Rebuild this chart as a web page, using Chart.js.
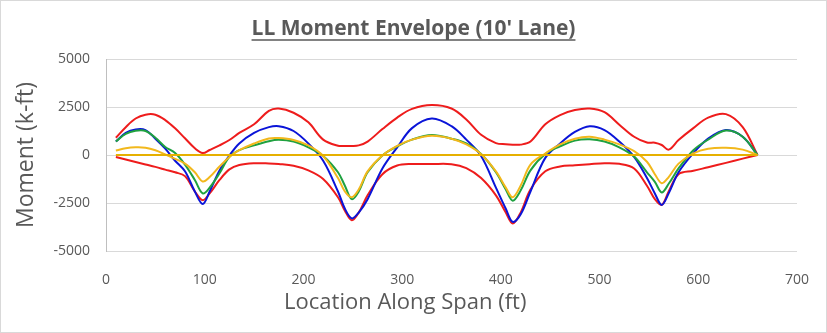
<!DOCTYPE html>
<html>
<head>
<meta charset="utf-8">
<script src="https://cdn.jsdelivr.net/npm/chart.js@4/dist/chart.umd.min.js"></script>
<style>
  body { margin: 0; background: #fff; }
  #wrap { width: 827px; height: 333px; }
</style>
</head>
<body>
<div id="wrap"><canvas id="grafico" width="827" height="333"></canvas></div>
<script>
// stations along the span (ft)
const estaciones = [10, 20, 30, 40, 50, 60, 70, 80, 90, 98, 105, 115, 125, 135, 150, 165, 175, 190, 205, 220,
  235, 242, 249, 256, 265, 280, 295, 310, 330, 350, 365, 380, 395, 405, 412, 420, 430, 445, 460, 475,
  490, 505, 520, 535, 548, 556, 563, 570, 580, 595, 610, 628, 645, 660];

// envelope maximum / minimum (k-ft)
const envMax = [900, 1450, 1900, 2100, 2100, 1820, 1390, 870, 350, 100, 260, 500, 780, 1150, 1600, 2300, 2420, 2200, 1700, 800,
  480, 470, 470, 500, 700, 1350, 1950, 2400, 2600, 2420, 1850, 1050, 620, 560, 540, 540, 700, 1600, 2080, 2340,
  2420, 2230, 1580, 950, 650, 640, 520, 280, 780, 1400, 1950, 2130, 1450, 0];
const envMin = [-100, -230, -360, -490, -620, -760, -900, -1100, -1900, -2350, -2000, -1300, -750, -520, -430, -440, -470, -560, -800, -1250,
  -2200, -2900, -3400, -3000, -2100, -1000, -550, -470, -470, -480, -680, -1200, -2100, -3000, -3570, -3000, -1800, -850, -600, -540,
  -480, -430, -460, -700, -1600, -2300, -2600, -1900, -1000, -825, -635, -410, -190, 0];

// individual load cases (k-ft)
const caso1 = [700, 1150, 1330, 1300, 850, 330, -300, -850, -1900, -2550, -1900, -800, -30, 600, 1150, 1450, 1500, 1250, 600, -300,
  -1900, -2800, -3300, -3000, -2300, -700, 400, 1400, 1900, 1500, 800, -50, -1700, -2800, -3480, -3100, -1900, -150, 600, 1200,
  1500, 1300, 700, -100, -1200, -2000, -2600, -2000, -900, 100, 850, 1300, 950, 0];
const caso2 = [700, 1100, 1260, 1250, 900, 420, 100, -500, -1300, -2000, -1700, -950, -100, 250, 500, 720, 790, 700, 400, -50,
  -900, -1600, -2300, -1900, -900, -20, 450, 800, 1040, 850, 600, 50, -900, -1800, -2380, -1850, -800, 50, 450, 750,
  820, 700, 400, -80, -900, -1400, -1950, -1500, -700, 250, 800, 1270, 950, 0];
const caso3 = [230, 350, 400, 380, 250, 30, -200, -450, -900, -1380, -1150, -600, -100, 250, 600, 860, 880, 780, 500, -50,
  -1200, -1900, -2200, -1800, -850, -20, 480, 800, 1000, 850, 550, 40, -850, -1700, -2200, -1600, -500, 80, 550, 850,
  950, 800, 550, 200, -350, -1000, -1470, -1150, -450, 90, 330, 380, 280, 0];
const base = estaciones.map(() => 0);

const ticksY = [-5000, -2500, 0, 2500, 5000];
const titulo = "LL Moment Envelope (10' Lane)";
const tituloX = "Location Along Span (ft)";

const GRIS = "#595959";
const FUENTE = "'Open Sans'";

function serie(valores) {
  return estaciones.map((x, i) => ({ x: x, y: valores[i] }));
}

function linea(label, valores, color, orden) {
  return {
    label: label,
    data: serie(valores),
    borderColor: color,
    backgroundColor: color,
    borderWidth: 2,
    pointRadius: 0,
    fill: false,
    tension: 0.35,
    order: orden
  };
}

// underlined title, x axis title and a light frame round the chart
const textos = {
  id: "textos",
  afterDraw(chart) {
    const ctx = chart.ctx;
    const cx = chart.width / 2;
    ctx.save();
    ctx.fillStyle = GRIS;
    ctx.textAlign = "center";
    ctx.textBaseline = "alphabetic";

    ctx.font = "bold 21px " + FUENTE;
    ctx.fillText(titulo, cx, 35);
    const ancho = ctx.measureText(titulo).width;
    ctx.strokeStyle = GRIS;
    ctx.lineWidth = 1.5;
    ctx.beginPath();
    ctx.moveTo(cx - ancho / 2, 40);
    ctx.lineTo(cx + ancho / 2, 40);
    ctx.stroke();

    ctx.font = "22px " + FUENTE;
    ctx.fillText(tituloX, chart.width * 0.49, chart.height - 24);

    ctx.strokeStyle = "#d9d9d9";
    ctx.lineWidth = 1;
    ctx.strokeRect(0.5, 0.5, chart.width - 1, chart.height - 1);
    ctx.restore();
  }
};

const ctx = document.getElementById("grafico").getContext("2d");
new Chart(ctx, {
  type: "line",
  data: {
    datasets: [
      linea("Base", base, "#e6b000", 0),
      linea("Caso 3", caso3, "#f2b81c", 1),
      linea("Caso 2", caso2, "#1fa140", 2),
      linea("Caso 1", caso1, "#0a14d8", 3),
      linea("Mín", envMin, "#ee1c1c", 4),
      linea("Máx", envMax, "#ee1c1c", 4)
    ]
  },
  options: {
    responsive: false,
    animation: false,
    layout: { padding: { left: 0, right: 30, bottom: 0, top: 59 } },
    plugins: {
      legend: { display: false },
      tooltip: { enabled: false },
      title: { display: false }
    },
    scales: {
      x: {
        type: "linear",
        min: 0,
        max: 700,
        afterFit(scale) { scale.height = 82; },
        ticks: {
          stepSize: 100,
          maxRotation: 0,
          color: GRIS,
          font: { family: FUENTE, size: 14 },
          padding: 13
        },
        grid: { display: false },
        border: { display: false }
      },
      y: {
        min: ticksY[0],
        max: ticksY[ticksY.length - 1],
        afterBuildTicks(scale) {
          scale.ticks = ticksY.map(v => ({ value: v }));
        },
        afterFit(scale) { scale.width = 106; },
        ticks: {
          color: GRIS,
          font: { family: FUENTE, size: 14 },
          padding: 16,
          callback: v => String(v)
        },
        grid: { color: "#d9d9d9", drawTicks: false },
        border: { display: true, color: "#bfbfbf" },
        title: {
          display: true,
          text: "Moment (k-ft)",
          color: GRIS,
          font: { family: FUENTE, size: 23 },
          padding: { top: 13, bottom: 0 }
        }
      }
    }
  },
  plugins: [textos]
});
</script>
</body>
</html>
